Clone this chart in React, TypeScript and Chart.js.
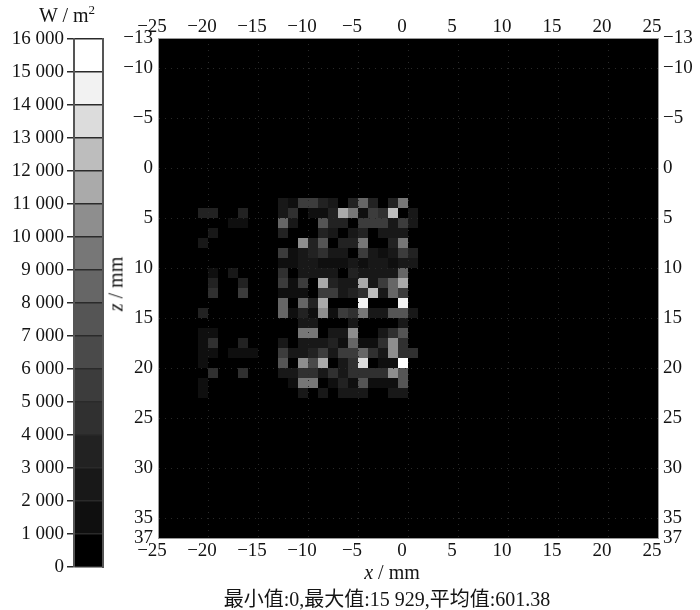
import React, { useEffect, useRef } from 'react';
import Chart from 'chart.js/auto';

const SERIF = '"Liberation Serif", "Noto Sans CJK SC", serif';
const INK = '#141414';

// columns x = -21 ... 0 mm, rows z = 3 ... 22 mm, values in W/m2
const cellColumns = [-21, -20, -19, -18, -17, -16, -15, -14, -13, -12, -11, -10, -9, -8, -7, -6, -5, -4, -3, -2, -1, 0];
const cellRows = [3, 4, 5, 6, 7, 8, 9, 10, 11, 12, 13, 14, 15, 16, 17, 18, 19, 20, 21, 22];
const cellValues = [
  [0, 0, 0, 0, 0, 0, 0, 0, 2500, 1500, 5500, 5500, 3500, 2500, 0, 3500, 8500, 3500, 0, 3500, 9500, 0],
  [3500, 3500, 0, 0, 3500, 0, 0, 0, 2500, 4500, 0, 1500, 1500, 3500, 11500, 9500, 1500, 5500, 4500, 12500, 0, 2500],
  [0, 0, 0, 1500, 1500, 0, 0, 0, 8500, 2500, 0, 0, 7500, 3500, 3500, 0, 5500, 5500, 5500, 2500, 5500, 2500],
  [0, 2500, 0, 0, 0, 0, 0, 0, 3500, 0, 0, 0, 3500, 2500, 0, 2500, 3500, 0, 2500, 2500, 2500, 0],
  [2500, 0, 0, 0, 0, 0, 0, 0, 0, 0, 10500, 3500, 7500, 0, 3500, 3500, 9500, 0, 0, 3500, 9500, 0],
  [0, 0, 0, 0, 0, 0, 0, 0, 5500, 1500, 2500, 3500, 4500, 2500, 2500, 0, 5500, 2500, 1500, 2500, 5500, 3500],
  [0, 0, 0, 0, 0, 0, 0, 0, 1500, 1500, 2500, 2500, 1500, 1500, 1500, 2500, 1500, 2500, 2500, 1500, 2500, 2500],
  [0, 1500, 0, 2500, 0, 0, 0, 0, 4500, 0, 2500, 2500, 2500, 2500, 0, 3500, 2500, 2500, 2500, 2500, 8500, 0],
  [0, 3500, 0, 0, 3500, 0, 0, 0, 5500, 1500, 5500, 0, 11500, 3500, 2500, 2500, 11500, 2500, 5500, 8500, 11500, 0],
  [0, 4500, 0, 0, 5500, 0, 0, 0, 1500, 1500, 1500, 0, 5500, 5500, 2500, 3500, 4500, 12500, 2500, 8500, 5500, 0],
  [0, 0, 0, 0, 0, 0, 0, 0, 8500, 0, 8500, 3500, 11500, 0, 0, 0, 14500, 0, 0, 0, 14500, 0],
  [3500, 0, 0, 0, 0, 0, 0, 0, 8500, 1500, 3500, 1500, 10500, 1500, 5500, 4500, 9500, 2500, 2500, 7500, 7500, 2500],
  [0, 0, 0, 0, 0, 0, 0, 0, 0, 0, 2500, 2500, 0, 0, 0, 2500, 0, 0, 0, 0, 2500, 0],
  [1500, 1500, 0, 0, 0, 0, 0, 0, 0, 0, 9500, 9500, 0, 2500, 2500, 10500, 0, 0, 2500, 4500, 7500, 0],
  [1500, 4500, 0, 0, 3500, 0, 0, 0, 2500, 0, 2500, 2500, 2500, 3500, 1500, 8500, 1500, 1500, 4500, 10500, 4500, 0],
  [1500, 1500, 0, 1500, 1500, 1500, 0, 0, 5500, 2500, 2500, 3500, 5500, 2500, 5500, 5500, 8500, 4500, 2500, 10500, 4500, 4500],
  [1500, 0, 0, 0, 0, 0, 0, 0, 7500, 0, 10500, 6500, 11500, 0, 2500, 4500, 13500, 0, 1500, 1500, 15900, 0],
  [0, 4500, 0, 0, 4500, 0, 0, 0, 2500, 2500, 4500, 4500, 2500, 4500, 2500, 4500, 4500, 4500, 4500, 10500, 7500, 0],
  [1500, 0, 0, 0, 0, 0, 0, 0, 0, 1500, 9500, 9500, 0, 1500, 3500, 1500, 7500, 1500, 1500, 1500, 7500, 0],
  [1500, 0, 0, 0, 0, 0, 0, 0, 0, 0, 2500, 0, 2500, 0, 2500, 2500, 2500, 0, 0, 2500, 2500, 0],
];

const xTicks = [-25, -20, -15, -10, -5, 0, 5, 10, 15, 20, 25];
const zTicks = [-13, -10, -5, 0, 5, 10, 15, 20, 25, 30, 35, 37];

// one grey per 1 000 W/m2 band, from 0 upward
const bandStep = 1000;
const bandColors = [
  '#000000', '#0f0f0f', '#181818', '#222222', '#303030', '#3c3c3c', '#4a4a4a', '#555555',
  '#666666', '#777777', '#8e8e8e', '#aaaaaa', '#bdbdbd', '#dcdcdc', '#f2f2f2', '#ffffff',
];

const minus = (v: number) => String(v).replace('-', '\u2212');
const spaced = (v: number) => String(v).replace(/(\d)(\d{3})$/, '$1 $2');

const cellPoints = cellRows.flatMap((z, r) =>
  cellColumns.map((x, c) => ({ x: x + 0.5, y: z + 0.5, v: cellValues[r][c] })).filter((p) => p.v > 0)
);

const forcedSize = (side: 'width' | 'height', size: number) => (scale: any) => {
  scale[side] = size;
};

const plotBackground = {
  id: 'plotBackground',
  beforeDraw(chart: any) {
    const { ctx, chartArea: a } = chart;
    ctx.save();
    ctx.fillStyle = '#000';
    ctx.fillRect(a.left, a.top, a.right - a.left, a.bottom - a.top);
    ctx.restore();
  },
};

export default function App() {
  const heatRef = useRef<HTMLCanvasElement>(null);
  const barRef = useRef<HTMLCanvasElement>(null);

  useEffect(() => {
    const tickFont = { family: SERIF, size: 19 };
    const edge = { color: '#9a9a9a', width: 1, z: 2, dash: [1, 5] };
    const dotted = {
      display: true,
      z: 1,
      drawTicks: false,
      color: (c: any) => (c.index === 0 || c.index === c.scale.ticks.length - 1 ? 'rgba(0,0,0,0)' : '#2a2a2a'),
    };
    const noGrid = { display: false, drawTicks: false };

    const xAxis = (position: string, size: number, grid: any, padding: number) => ({
      type: 'linear',
      position,
      min: -25,
      max: 25,
      afterBuildTicks: (s: any) => {
        s.ticks = xTicks.map((value) => ({ value }));
      },
      afterFit: forcedSize('height', size),
      border: edge,
      grid,
      ticks: {
        color: INK,
        font: tickFont,
        padding,
        labelOffset: -6,
        maxRotation: 0,
        autoSkip: false,
        callback: (v: any) => minus(v),
      },
    });
    const zAxis = (position: string, size: number, grid: any) => ({
      type: 'linear',
      position,
      reverse: true,
      min: -13,
      max: 37,
      afterBuildTicks: (s: any) => {
        s.ticks = zTicks.map((value) => ({ value }));
      },
      afterFit: forcedSize('width', size),
      border: edge,
      grid,
      ticks: {
        color: INK,
        font: tickFont,
        padding: 5,
        autoSkip: false,
        callback: (v: any) => minus(v),
      },
    });

    const heat = new Chart(heatRef.current!, {
      type: 'scatter',
      data: {
        datasets: [
          {
            label: 'W/m2',
            data: cellPoints as any,
            pointStyle: 'rect',
            pointRadius: 10 * Math.SQRT1_2,
            pointBorderWidth: 0,
            pointBackgroundColor: (c: any) =>
              bandColors[Math.floor((c.raw?.v ?? 0) / bandStep)],
          },
        ],
      },
      options: {
        responsive: false,
        animation: false,
        layout: { padding: 0 },
        plugins: { legend: { display: false }, tooltip: { enabled: false } },
        scales: {
          x: xAxis('bottom', 72, dotted, 2),
          x2: xAxis('top', 38, noGrid, 0),
          y: zAxis('left', 158, dotted),
          y2: zAxis('right', 42, noGrid),
        },
      } as any,
      plugins: [plotBackground],
    });

    const bar = new Chart(barRef.current!, {
      type: 'bar',
      data: {
        labels: ['W / m2'],
        datasets: bandColors.map((color) => ({
          data: [bandStep],
          backgroundColor: color,
          barPercentage: 1,
          categoryPercentage: 1,
          stack: 'bands',
        })),
      },
      options: {
        responsive: false,
        animation: false,
        layout: { padding: { top: 39, bottom: 43 } },
        plugins: { legend: { display: false }, tooltip: { enabled: false } },
        scales: {
          x: { display: false, stacked: true },
          y: {
            stacked: true,
            min: 0,
            max: 16000,
            afterFit: forcedSize('width', 74),
            border: { color: '#555', width: 2, z: 2 },
            grid: { color: '#2a2a2a', lineWidth: 1.5, tickLength: 7, z: 1 },
            ticks: {
              stepSize: bandStep,
              color: INK,
              font: tickFont,
              padding: 3,
              autoSkip: false,
              callback: (v: any) => spaced(v),
            },
          },
          yEdge: {
            position: 'right',
            min: 0,
            max: 16000,
            afterFit: forcedSize('width', 27),
            border: { color: '#555', width: 2, z: 2 },
            grid: { display: false, drawTicks: false },
            ticks: { display: false },
          },
        },
      } as any,
    });

    return () => {
      heat.destroy();
      bar.destroy();
    };
  }, []);

  const label: React.CSSProperties = {
    position: 'absolute',
    font: `20px ${SERIF}`,
    color: INK,
    whiteSpace: 'nowrap',
    transform: 'translate(-50%, -50%)',
  };

  return (
    <div style={{ position: 'absolute', left: 0, top: 0, width: 700, height: 610, background: '#fff' }}>
      <canvas ref={heatRef} width={700} height={610} style={{ position: 'absolute', left: 0, top: 0 }} />
      <canvas ref={barRef} width={130} height={610} style={{ position: 'absolute', left: 0, top: 0 }} />
      <div style={{ ...label, left: 67, top: 15 }}>
        W / m<sup style={{ fontSize: 13, lineHeight: 0 }}>2</sup>
      </div>
      <div style={{ ...label, left: 116, top: 284, transform: 'translate(-50%, -50%) rotate(-90deg)' }}>
        <i>z</i> / mm
      </div>
      <div style={{ ...label, left: 392, top: 572 }}>
        <i>x</i> / mm
      </div>
      <div style={{ ...label, left: 387, top: 597 }}>最小值:0,最大值:15 929,平均值:601.38</div>
    </div>
  );
}
